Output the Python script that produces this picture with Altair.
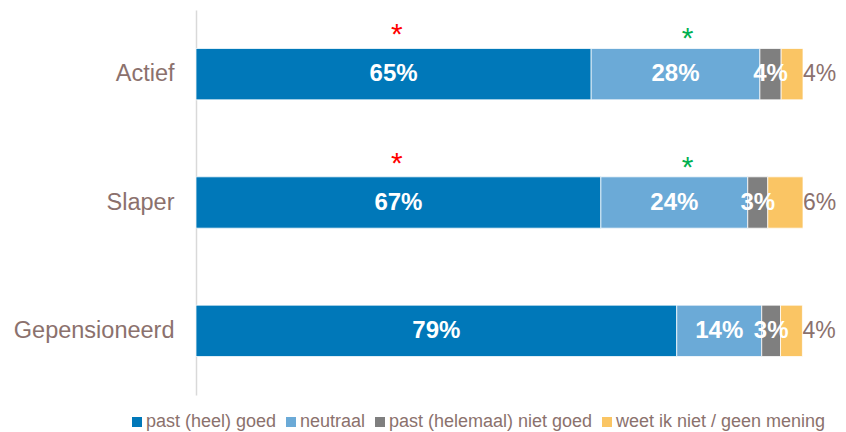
import altair as alt
import pandas as pd

categories = ["Actief", "Slaper", "Gepensioneerd"]
series = ["past (heel) goed", "neutraal", "past (helemaal) niet goed", "weet ik niet / geen mening"]
colors = ["#0078B9", "#6BAAD7", "#7F7F7F", "#FAC564"]

good_vals = [65.1, 66.7, 79.2]
neutral_vals = [27.8, 24.2, 14.0]
bad_vals = [3.5, 3.3, 3.1]
unknown_vals = [3.6, 5.8, 3.6]

good_labels = ["65%", "67%", "79%"]
neutral_labels = ["28%", "24%", "14%"]
bad_labels = ["4%", "3%", "3%"]
unknown_labels = ["4%", "6%", "4%"]

star_cats = ["Actief", "Slaper"]
red_star_x = [33.1, 33.1]
green_star_x = [81.0, 81.0]

TEXT_COLOR = "#8B716D"
FONT = "Liberation Sans"

series_vals = [good_vals, neutral_vals, bad_vals, unknown_vals]
series_labels = [good_labels, neutral_labels, bad_labels, unknown_labels]

rows = []
for ci, cat in enumerate(categories):
    start = 0.0
    for si, name in enumerate(series):
        v = series_vals[si][ci]
        rows.append({
            "cat": cat, "series": name, "order": si,
            "start": start, "end": start + v, "mid": start + v / 2,
            "label": series_labels[si][ci],
        })
        start += v
df = pd.DataFrame(rows)

stars = pd.DataFrame(
    [{"cat": c, "x": x, "kind": "red"} for c, x in zip(star_cats, red_star_x)]
    + [{"cat": c, "x": x, "kind": "green"} for c, x in zip(star_cats, green_star_x)]
)

y_enc = alt.Y(
    "cat:N", sort=categories, title=None,
    scale=alt.Scale(paddingInner=0.6, paddingOuter=0.3),
    axis=alt.Axis(domainColor="#D9D9D9", domainWidth=1.5, ticks=False, grid=False,
                  labelFontSize=23.5, labelColor=TEXT_COLOR, labelFont=FONT,
                  labelPadding=22),
)
x_scale = alt.Scale(domain=[0, 100], nice=False, zero=True)

base = alt.Chart(df)

bars = base.mark_bar(stroke="white", strokeWidth=0.75).encode(
    x=alt.X("start:Q", scale=x_scale, axis=None),
    x2="end:Q",
    y=y_enc,
    color=alt.Color(
        "series:N",
        scale=alt.Scale(domain=series, range=colors),
        legend=alt.Legend(
            title=None, orient="none", direction="horizontal",
            legendX=-68, legendY=403,
            symbolType="square", symbolSize=100, symbolStrokeWidth=0,
            labelFontSize=18, labelColor=TEXT_COLOR, labelFont=FONT,
            labelOffset=0, columnPadding=5, labelLimit=400,
        ),
    ),
    order="order:Q",
)

inside = base.transform_filter("datum.order < 3").mark_text(
    color="white", fontWeight="bold", fontSize=24, font=FONT, align="center", baseline="middle"
).encode(
    x=alt.X("mid:Q", scale=x_scale),
    y=alt.Y("cat:N", sort=categories),
    text="label:N",
)

outside = base.transform_filter("datum.order == 3").mark_text(
    color=TEXT_COLOR, fontSize=23, font=FONT, align="left", baseline="middle", dx=0
).encode(
    x=alt.X("end:Q", scale=x_scale),
    y=alt.Y("cat:N", sort=categories),
    text="label:N",
)

star_base = alt.Chart(stars)
red = star_base.transform_filter("datum.kind == 'red'").mark_text(
    text="*", color="#FF0000", fontSize=30, font=FONT, align="center", baseline="alphabetic", dy=-30
).encode(
    x=alt.X("x:Q", scale=x_scale),
    y=alt.Y("cat:N", sort=categories),
)
green = star_base.transform_filter("datum.kind == 'green'").mark_text(
    text="*", color="#00B050", fontSize=30, font=FONT, align="center", baseline="alphabetic", dy=-26
).encode(
    x=alt.X("x:Q", scale=x_scale),
    y=alt.Y("cat:N", sort=categories),
)

chart = alt.layer(bars, inside, outside, red, green).properties(
    width=607, height=385,
    autosize=alt.AutoSizeParams(type="none"),
    padding={"left": 188, "top": 2, "right": 35, "bottom": 37},
).configure_view(stroke=None)

chart.save("out.html", embed_options={"renderer": "svg", "actions": False})
